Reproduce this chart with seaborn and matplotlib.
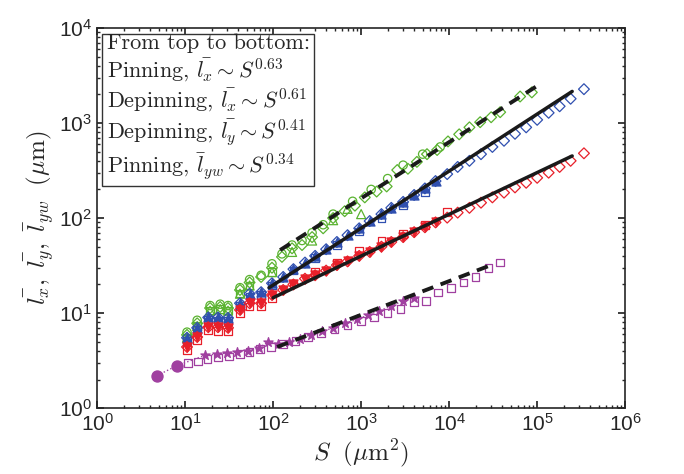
import numpy as np
import pandas as pd
import seaborn as sns
import matplotlib
matplotlib.use("Agg")
from matplotlib import pyplot as plt

sns.set_theme(style="ticks")
plt.rcParams["mathtext.fontset"] = "cm"
plt.rcParams["font.family"] = ["Liberation Sans", "DejaVu Sans"]

# green: pinning l_x (top group)
g_S = [10.5, 13.7, 19.2, 25, 30.7, 42, 54, 73, 97, 126, 164, 213, 277, 370, 480,
       650, 850, 1100, 1500, 1950, 2570, 3400, 4300, 5600, 7300, 9700, 13000,
       17000, 22500, 30000, 38000, 64000, 87000]
g_v = [5.9, 7.8, 11.3, 11.6, 11.3, 17.5, 21, 24, 30, 39, 48, 52, 63, 78, 100,
       118, 135, 165, 190, 215, 320, 330, 390, 470, 520, 640, 760,
       900, 1020, 1150, 1300, 1900, 2100]
g_S2 = [10.5, 13.7, 19.2, 25, 30.7, 42, 54, 73, 97, 126, 164, 213, 277, 370, 480, 800, 1300, 2000, 3000, 5000, 7900]
g_v2 = [6.3, 8.4, 12.0, 12.4, 12.0, 18.5, 22.5, 25, 33, 42, 52, 58, 70, 85, 110, 150, 200, 260, 360, 470, 560]
g_S3 = [10.5, 13.7, 19.2, 25, 30.7, 42, 54, 97, 164, 277, 480, 700, 1000]
g_v3 = [5.5, 7.3, 10.6, 11.0, 10.6, 16.0, 19.5, 27, 44, 58, 95, 125, 110]

# blue: depinning l_x
b_S = [10.5, 13.7, 18.3, 23.6, 30.7, 42, 54, 73, 97, 130, 170, 230, 300, 400, 530,
       700, 950, 1250, 1700, 2200, 3000, 4000, 5300, 7000, 9500, 12500, 17000,
       23000, 31000, 42000, 56000, 75000, 100000, 135000, 180000, 240000, 340000]
b_v = [5.5, 7.0, 9.0, 9.0, 8.9, 12.7, 16, 16.6, 20.6, 24, 29, 34, 40, 47, 56,
       66, 78, 93, 110, 128, 148, 175, 205, 245, 290, 345, 400,
       470, 560, 650, 770, 900, 1080, 1280, 1500, 1800, 2270]
b_S2 = [10.5, 13.7, 18.3, 23.6, 30.7, 42, 54, 73, 97, 170, 300, 530, 950, 1700, 3000, 5300]
b_v2 = [5.1, 6.6, 8.4, 8.3, 8.3, 11.8, 15, 15.5, 19.5, 28, 38, 52, 72, 100, 135, 185]

# red: depinning l_y
r_S = [10.5, 13.7, 18.3, 23.6, 30.7, 42, 54, 73, 97, 130, 170, 230, 300, 400, 530,
       700, 950, 1250, 1700, 2200, 3000, 4000, 5300, 7000, 9500, 12500, 17000,
       23000, 31000, 42000, 56000, 75000, 100000, 135000, 180000, 240000, 340000]
r_v = [4.4, 5.6, 7.1, 7.1, 7.0, 10.8, 12.7, 12.7, 15.5, 17.5, 20, 23, 25, 28, 32,
       35, 40, 44, 50, 56, 63, 71, 80, 90, 101, 114, 128,
       145, 165, 185, 210, 235, 265, 300, 345, 400, 480]
r_S2 = [10.5, 13.7, 18.3, 23.6, 30.7, 42, 54, 73, 97, 170, 300, 530, 950, 1700, 3000, 5300, 9500]
r_v2 = [4.1, 5.2, 6.6, 6.5, 6.4, 9.9, 11.7, 11.8, 14.5, 20.5, 27, 34, 45, 58, 68, 85, 115]

# purple: pinning l_yw
p_S = [4.8, 8.1, 16.9, 22.9, 30, 39, 52, 69, 88, 115, 150, 200, 270, 360, 480,
       650, 900, 1200, 1600, 2200, 3000, 4000]
p_v = [2.2, 2.8, 3.6, 3.7, 3.8, 3.9, 4.0, 4.3, 5.0, 4.7, 5.0, 5.4, 5.9, 6.4, 7.0,
       7.8, 8.6, 9.5, 10.6, 11.8, 13.5, 14.5]
p_S2 = [10.8, 14, 18, 23.6, 31.6, 42, 54, 71, 95, 130, 180, 250, 350, 500, 700, 1000,
        1400, 2000, 2800, 4000, 5500, 7500, 10500, 14500, 20000, 28000, 37800]
p_v2 = [3.0, 3.1, 3.3, 3.4, 3.5, 3.7, 3.9, 4.2, 4.4, 4.7, 5.1, 5.6, 6.1, 6.7, 7.4, 8.2,
        9.0, 10.0, 11.0, 13.0, 13.5, 16.5, 18.5, 21, 24, 30, 34]

# fit lines: (S_start, S_end), (v_start, v_end)
fit_green = ([120, 110000], [46, 2600])
fit_blue = ([90, 250000], [18.5, 2150])
fit_red = ([100, 250000], [14.5, 450])
fit_purple = ([111, 30000], [4.4, 32])

fig = plt.figure(figsize=(6.84, 4.74), dpi=100)
ax = fig.add_axes([0.142, 0.139, 0.772, 0.802])

def pts(S, v, color, marker, ms=6, filled=False):
    df = pd.DataFrame({"S": S, "v": v})
    kw = dict(facecolor=color) if filled else dict(facecolor="none")
    sns.scatterplot(data=df, x="S", y="v", ax=ax, marker=marker, s=ms ** 2,
                    edgecolor=color, linewidth=0.9, legend=False, **kw)

green, blue, red, purple = "#5ab330", "#3050b0", "#e8202a", "#a040a0"

pts(g_S, g_v, green, "D", 5.5)
pts(g_S2, g_v2, green, "o", 6)
pts(g_S3, g_v3, green, "^", 6.5)
pts(g_S3[:8], g_v3[:8], green, "s", 5.5)

pts(b_S[:24], b_v[:24], blue, "^", 6.5, filled=True)
pts(b_S, b_v, blue, "D", 5.5)
pts(b_S2, b_v2, blue, "s", 5.5)

pts(r_S[:24], r_v[:24], red, "v", 6.5, filled=True)
pts(r_S, r_v, red, "D", 5.5)
pts(r_S2, r_v2, red, "s", 5.5)
pts(r_S2, r_v2, red, "+", 6)

ax.plot(p_S, p_v, ":", color=purple, lw=1)
pts(p_S, p_v, purple, "*", 7, filled=True)
pts(p_S2, p_v2, purple, "s", 5.5)
pts(p_S2[5:], p_v2[5:], purple, "+", 6)
pts(p_S[:2], p_v[:2], purple, "o", 8, filled=True)

ax.plot(*fit_green, "--", color="k", lw=2.8, dashes=(3, 2))
ax.plot(*fit_blue, "-", color="k", lw=2.5)
ax.plot(*fit_red, "-", color="k", lw=2.5)
ax.plot(*fit_purple, "--", color="k", lw=2.8, dashes=(3, 2))

ax.set_xscale("log")
ax.set_yscale("log")
ax.set_xlim(1, 1e6)
ax.set_ylim(1, 1e4)
ax.tick_params(which="both", direction="in", top=True, right=True, labelsize=15)
ax.tick_params(which="major", length=5)
ax.tick_params(which="minor", length=2.5)
for sp in ax.spines.values():
    sp.set_linewidth(1.2)
ax.set_xlabel(r"$S\ \ (\mu\mathrm{m}^2)$", fontsize=18, labelpad=2)
ax.set_ylabel(r"$\bar{l_x},\ \bar{l_y},\ \bar{l}_{yw}\ \ (\mu\mathrm{m})$", fontsize=18, labelpad=2)

txt = ("From top to bottom:\n"
       r"Pinning, $\bar{l_x}\sim S^{0.63}$" "\n"
       r"Depinning, $\bar{l_x}\sim S^{0.61}$" "\n"
       r"Depinning, $\bar{l_y}\sim S^{0.41}$" "\n"
       r"Pinning, $\bar{l}_{yw}\sim S^{0.34}$")
ax.text(0.018, 0.985, txt, transform=ax.transAxes, va="top", ha="left",
        fontsize=16, family="cmr10", linespacing=1.15,
        bbox=dict(boxstyle="square,pad=0.2", fc="white", ec="#333333", lw=1))

fig.savefig("out.png", dpi=100)
